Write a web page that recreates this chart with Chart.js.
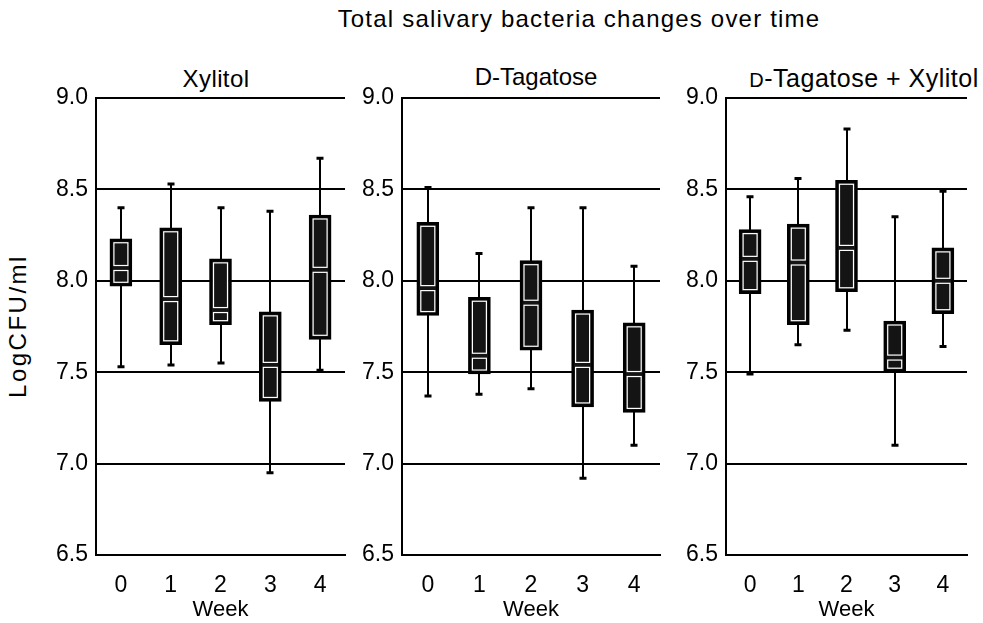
<!DOCTYPE html>
<html>
<head>
<meta charset="utf-8">
<script src="https://cdn.jsdelivr.net/npm/chart.js@4"></script>
<style>
  body { margin: 0; background: #fff; }
  #wrap { position: relative; width: 983px; height: 623px; font-family: "Liberation Sans", Arial, sans-serif; color: #000; }
  canvas { position: absolute; top: 0; }
  .lbl { position: absolute; white-space: nowrap; line-height: 28px; }
</style>
</head>
<body>
<div id="wrap">
  <div class="lbl" style="left:579px; top:5px; font-size:24px; letter-spacing:1.2px; transform:translateX(-50%);">Total salivary bacteria changes over time</div>
  <div class="lbl" style="left:216px; top:65px; font-size:24px; letter-spacing:0.4px; transform:translateX(-50%);">Xylitol</div>
  <div class="lbl" style="left:536px; top:63px; font-size:24px; transform:translateX(-50%);">D-Tagatose</div>
  <div class="lbl" style="left:864px; top:64px; font-size:25px; letter-spacing:0.5px; transform:translateX(-50%);"><span style="font-size:20px">D</span>-Tagatose + Xylitol</div>
  <div class="lbl" style="left:18px; top:326px; font-size:24px; letter-spacing:2.5px; transform:translate(-50%,-50%) rotate(-90deg);">LogCFU/ml</div>
  <canvas id="c1" width="350" height="623" style="left:0px"></canvas>
  <canvas id="c2" width="310" height="623" style="left:355px"></canvas>
  <canvas id="c3" width="300" height="623" style="left:670px"></canvas>
</div>
<script>
// weeks on the x axis, y ticks
var weeks = ['0', '1', '2', '3', '4'];
var yTicks = [6.5, 7.0, 7.5, 8.0, 8.5, 9.0];

// Xylitol
var xylMin = [7.53, 7.54, 7.55, 6.95, 7.51];
var xylQ1  = [7.97, 7.65, 7.76, 7.34, 7.68];
var xylMed = [8.07, 7.90, 7.84, 7.54, 8.06];
var xylQ3  = [8.23, 8.29, 8.12, 7.83, 8.36];
var xylMax = [8.40, 8.53, 8.40, 8.38, 8.67];

// D-Tagatose
var tagMin = [7.37, 7.38, 7.41, 6.92, 7.10];
var tagQ1  = [7.81, 7.49, 7.62, 7.31, 7.28];
var tagMed = [7.96, 7.59, 7.88, 7.54, 7.49];
var tagQ3  = [8.32, 7.91, 8.11, 7.84, 7.77];
var tagMax = [8.51, 8.15, 8.40, 8.40, 8.08];

// D-Tagatose + Xylitol
var mixMin = [7.49, 7.65, 7.73, 7.10, 7.64];
var mixQ1  = [7.93, 7.76, 7.94, 7.50, 7.82];
var mixMed = [8.12, 8.10, 8.18, 7.58, 8.00];
var mixQ3  = [8.28, 8.31, 8.55, 7.78, 8.18];
var mixMax = [8.46, 8.56, 8.83, 8.35, 8.49];

// whiskers behind the boxes, white compartments on top
var boxWhisk = {
  id: 'boxWhisk',
  beforeDatasetsDraw: function(chart) {
    var st = chart.options.plugins.boxWhisk;
    var y = chart.scales.y;
    var ctx = chart.ctx;
    ctx.save();
    ctx.strokeStyle = '#000';
    chart.getDatasetMeta(0).data.forEach(function(bar, i) {
      var x = Math.round(bar.x);
      var top = y.getPixelForValue(st.max[i]);
      var bottom = y.getPixelForValue(st.min[i]);
      ctx.lineWidth = 2;
      ctx.beginPath();
      ctx.moveTo(x, top);
      ctx.lineTo(x, bottom);
      ctx.stroke();
      ctx.lineWidth = 3;
      ctx.beginPath();
      ctx.moveTo(x - 3.5, top); ctx.lineTo(x + 3.5, top);
      ctx.moveTo(x - 3.5, bottom); ctx.lineTo(x + 3.5, bottom);
      ctx.stroke();
    });
    ctx.restore();
  },
  afterDatasetsDraw: function(chart) {
    var st = chart.options.plugins.boxWhisk;
    var y = chart.scales.y;
    var ctx = chart.ctx;
    ctx.save();
    ctx.strokeStyle = '#fff';
    ctx.lineWidth = 1.2;
    chart.getDatasetMeta(0).data.forEach(function(bar, i) {
      var p = bar.getProps(['x', 'y', 'base', 'width'], true);
      var left = p.x - p.width / 2 + 4;
      var w = p.width - 8;
      var top = Math.min(p.y, p.base) + 4;
      var bot = Math.max(p.y, p.base) - 4;
      var med = y.getPixelForValue(st.med[i]);
      if (med - 2.5 > top + 1) ctx.strokeRect(left, top, w, med - 2.5 - top);
      if (bot > med + 2.5 + 1) ctx.strokeRect(left, med + 2.5, w, bot - med - 2.5);
    });
    ctx.restore();
  }
};

function makePanel(id, yWidth, padRight, mins, q1s, meds, q3s, maxs) {
  var boxes = q1s.map(function(v, i) { return [v, q3s[i]]; });
  return new Chart(document.getElementById(id), {
    type: 'bar',
    data: {
      labels: weeks,
      datasets: [{
        data: boxes,
        backgroundColor: '#141414',
        borderColor: '#000',
        borderWidth: 3,
        borderSkipped: false,
        barThickness: 22
      }]
    },
    options: {
      responsive: false,
      animation: false,
      layout: { padding: { top: 98, right: padRight, bottom: 0, left: 0 } },
      plugins: {
        legend: { display: false },
        tooltip: { enabled: false },
        boxWhisk: { min: mins, med: meds, max: maxs }
      },
      scales: {
        x: {
          offset: true,
          grid: { display: false },
          border: { display: true, color: '#000', width: 2 },
          ticks: { color: '#000', font: { size: 23, family: 'Liberation Sans' }, padding: 9 },
          title: { display: true, text: 'Week', color: '#000', font: { size: 22, family: 'Liberation Sans' }, padding: { top: 0, bottom: 0 } },
          afterFit: function(s) { s.height = 68; }
        },
        y: {
          min: 6.5,
          max: 9.0,
          afterBuildTicks: function(s) { s.ticks = yTicks.map(function(v) { return { value: v }; }); },
          grid: { color: '#000', lineWidth: 2, drawTicks: false },
          border: { display: true, color: '#000', width: 2 },
          ticks: {
            color: '#000',
            font: { size: 23, family: 'Liberation Sans' },
            padding: 8,
            callback: function(v) { return Number(v).toFixed(1); }
          },
          afterFit: function(s) { s.width = yWidth; }
        }
      }
    },
    plugins: [boxWhisk]
  });
}

makePanel('c1', 96, 5, xylMin, xylQ1, xylMed, xylQ3, xylMax);
makePanel('c2', 47, 5, tagMin, tagQ1, tagMed, tagQ3, tagMax);
makePanel('c3', 56, 3, mixMin, mixQ1, mixMed, mixQ3, mixMax);
</script>
</body>
</html>
